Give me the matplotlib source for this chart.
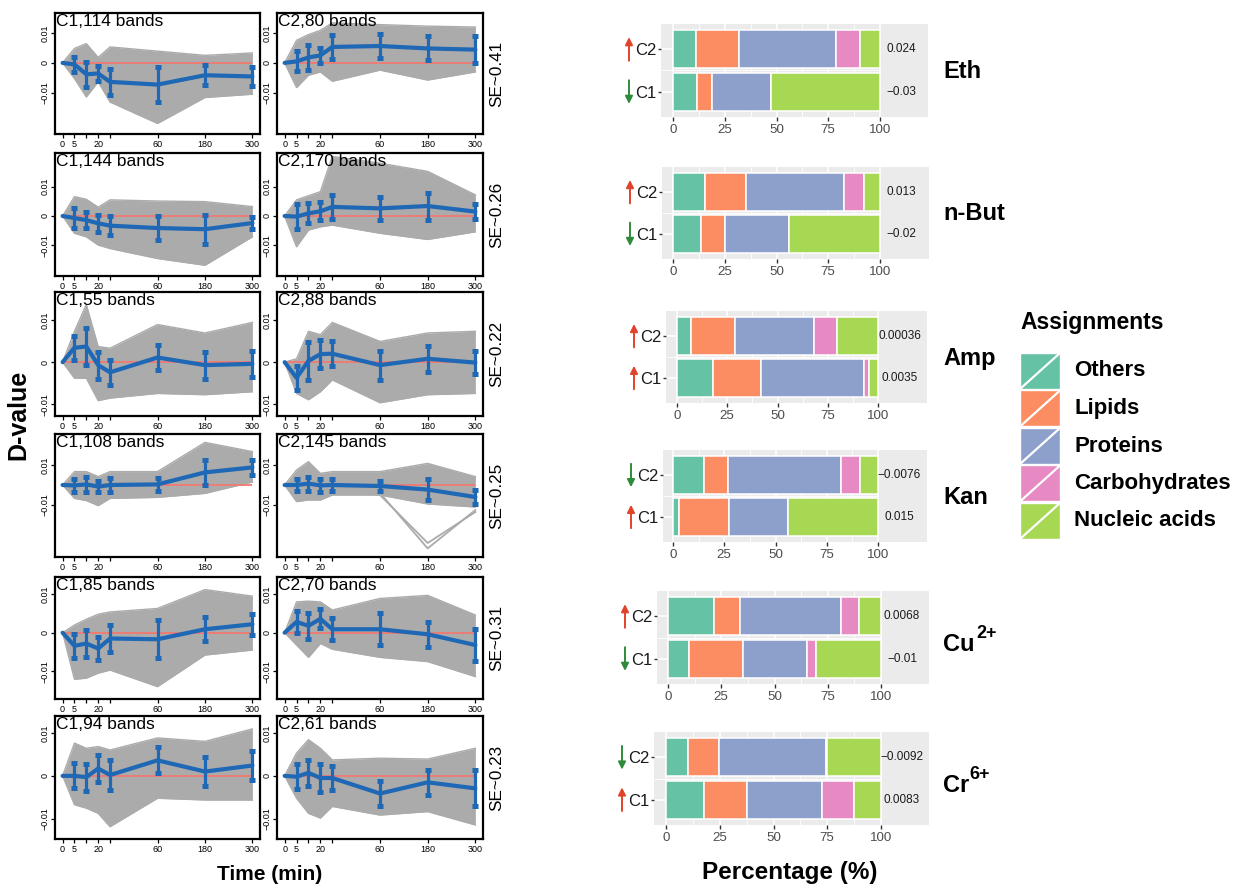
import matplotlib
matplotlib.use('Agg')
import matplotlib.pyplot as plt
import numpy as np
from matplotlib.patches import Rectangle
from matplotlib.lines import Line2D

plt.rcParams['font.family'] = ['Liberation Sans', 'DejaVu Sans']

# ---- data -----------------------------------------------------------------
times = [0, 5, 10, 20, 30, 60, 180, 300]
time_pos = [0, 1, 2, 3, 4, 8, 12, 16]          # plotting position of each time point
time_labels = ['0', '5', '', '20', '', '60', '180', '300']

treatments = ['Eth', 'n-But', 'Amp', 'Kan', 'Cu', 'Cr']
charges = ['', '', '', '', '2+', '6+']
se_values = ['0.41', '0.26', '0.22', '0.25', '0.31', '0.23']
c1_bands = [114, 144, 55, 108, 85, 94]
c2_bands = [80, 170, 88, 145, 70, 61]

# cluster mean D-value and error bar half-width per time point
c1_mean = [[0, -0.0005, -0.0038, -0.0035, -0.0063, -0.0072, -0.0041, -0.0045],
           [0, -0.0007, -0.0014, -0.0025, -0.0033, -0.0041, -0.0045, -0.0024],
           [0, 0.0034, 0.0037, -0.0007, -0.0024, 0.0011, -0.0007, -0.0004],
           [0, -0.0002, 0.0003, -0.0008, 0.0, 0.0003, 0.0063, 0.0088],
           [0, -0.0034, -0.0028, -0.0041, -0.0015, -0.0017, 0.0009, 0.0022],
           [0, 0.0, -0.0003, 0.0017, 0.0002, 0.0036, 0.0010, 0.0024]]
c1_sd = [[0, 0.0025, 0.0042, 0.0025, 0.0042, 0.0059, 0.0033, 0.0032],
         [0, 0.0033, 0.0026, 0.0030, 0.0033, 0.0041, 0.0049, 0.0021],
         [0, 0.0028, 0.0043, 0.0032, 0.0030, 0.0030, 0.0032, 0.0030],
         [0, 0.0032, 0.0036, 0.0028, 0.0033, 0.0031, 0.0063, 0.0038],
         [0, 0.0031, 0.0034, 0.0031, 0.0034, 0.0049, 0.0031, 0.0027],
         [0, 0.0029, 0.0031, 0.0032, 0.0035, 0.0030, 0.0033, 0.0033]]
c2_mean = [[0, 0.0005, 0.0018, 0.0025, 0.0053, 0.0056, 0.0048, 0.0044],
           [0, -0.0002, 0.0009, 0.0016, 0.0031, 0.0026, 0.0034, 0.0015],
           [0, -0.0037, 0.0003, 0.0019, 0.0020, -0.0007, 0.0008, -0.0001],
           [0, 0.0, 0.0007, -0.0002, 0.0, -0.0005, -0.0023, -0.0060],
           [0, 0.0028, 0.0018, 0.0036, 0.0009, 0.0009, -0.0004, -0.0032],
           [0, -0.0002, 0.0007, -0.0005, -0.0005, -0.0041, -0.0015, -0.0029]]
c2_sd = [[0, 0.0033, 0.0040, 0.0026, 0.0041, 0.0041, 0.0040, 0.0044],
         [0, 0.0043, 0.0034, 0.0030, 0.0042, 0.0038, 0.0046, 0.0026],
         [0, 0.0028, 0.0045, 0.0033, 0.0030, 0.0034, 0.0031, 0.0028],
         [0, 0.0030, 0.0035, 0.0031, 0.0028, 0.0023, 0.0052, 0.0035],
         [0, 0.0028, 0.0034, 0.0025, 0.0028, 0.0042, 0.0033, 0.0041],
         [0, 0.0029, 0.0030, 0.0033, 0.0027, 0.0028, 0.0029, 0.0042]]

# spread of the individual band profiles (upper / lower edge of the grey bundle)
c1_upper = [[0, 0.0048, 0.0064, 0.0018, 0.0053, 0.0039, 0.0025, 0.0033],
            [0, 0.0066, 0.0057, 0.0030, 0.0055, 0.0051, 0.0049, 0.0032],
            [0, 0.0073, 0.0136, 0.0037, 0.0033, 0.0089, 0.0069, 0.0094],
            [0, 0.0067, 0.0067, 0.0042, 0.0067, 0.0067, 0.0213, 0.0167],
            [0, 0.0020, 0.0035, 0.0048, 0.0054, 0.0063, 0.0112, 0.0095],
            [0, 0.0076, 0.0064, 0.0068, 0.0060, 0.0088, 0.0080, 0.0109]]
c1_lower = [[0, -0.0052, -0.0113, -0.0063, -0.0130, -0.0201, -0.0115, -0.0104],
            [0, -0.0059, -0.0071, -0.0099, -0.0111, -0.0145, -0.0168, -0.0071],
            [0, -0.0038, -0.0038, -0.0091, -0.0085, -0.0074, -0.0077, -0.0070],
            [0, -0.0067, -0.0078, -0.0103, -0.0067, -0.0062, -0.0042, 0.0015],
            [0, -0.0121, -0.0118, -0.0105, -0.0097, -0.0140, -0.0058, -0.0045],
            [0, -0.0067, -0.0075, -0.0087, -0.0118, -0.0052, -0.0056, -0.0056]]
c2_upper = [[0, 0.0075, 0.0094, 0.0108, 0.0133, 0.0127, 0.0122, 0.0119],
            [0, 0.0055, 0.0069, 0.0083, 0.0203, 0.0180, 0.0152, 0.0072],
            [0, 0.0008, 0.0073, 0.0065, 0.0094, 0.0049, 0.0069, 0.0073],
            [0, 0.0075, 0.0117, 0.0058, 0.0067, 0.0067, 0.0108, 0.0042],
            [0, 0.0080, 0.0082, 0.0080, 0.0059, 0.0089, 0.0097, 0.0046],
            [0, 0.0053, 0.0084, 0.0064, 0.0037, 0.0041, 0.0039, 0.0064]]
c2_lower = [[0, -0.0082, -0.0041, -0.0030, -0.0061, -0.0024, -0.0057, -0.0030],
            [0, -0.0105, -0.0048, -0.0037, -0.0031, -0.0059, -0.0080, -0.0054],
            [0, -0.0074, -0.0089, -0.0070, -0.0042, -0.0096, -0.0077, -0.0074],
            [0, -0.0083, -0.0075, -0.0075, -0.0050, -0.0050, -0.0095, -0.0110],
            [0, -0.0032, -0.0064, -0.0028, -0.0043, -0.0064, -0.0075, -0.0114],
            [0, -0.0052, -0.0087, -0.0098, -0.0071, -0.0091, -0.0083, -0.0114]]
# two stray Kan C2 bands that dip far below the bundle
kan_c2_outliers = [[0, 0.0, 0.0005, 0.0, -0.0015, -0.0040, -0.0317, -0.0125],
                   [0, 0.0005, 0.0, -0.0010, -0.0020, -0.0050, -0.0290, -0.0135]]

# composition of the bands (%)
assignments = ['Others', 'Lipids', 'Proteins', 'Carbohydrates', 'Nucleic acids']
assign_colors = ['#66C2A5', '#FC8D62', '#8DA0CB', '#E78AC3', '#A6D854']
c1_pct = [[11.4, 7.6, 28.3, 0.0, 52.7],
          [13.4, 11.8, 30.9, 0.0, 43.9],
          [17.9, 24.1, 50.9, 2.6, 4.5],
          [2.9, 24.5, 28.6, 0.0, 44.0],
          [9.7, 25.6, 29.8, 4.3, 30.6],
          [17.5, 20.2, 34.9, 15.0, 12.4]]
c2_pct = [[11.1, 20.8, 46.7, 11.9, 9.5],
          [15.3, 20.0, 47.4, 9.7, 7.6],
          [7.1, 21.6, 39.5, 11.2, 20.6],
          [15.2, 11.6, 55.1, 9.1, 9.0],
          [21.5, 12.3, 47.5, 8.5, 10.2],
          [10.4, 14.3, 49.7, 0.6, 25.0]]
c1_dval = [-0.03, -0.02, 0.0035, 0.015, -0.01, 0.0083]
c2_dval = [0.024, 0.013, 0.00036, -0.0076, 0.0068, -0.0092]

# ---- layout (pixels, top-left origin) -------------------------------------
W, H = 1246, 888
col_left = [55, 277]
col_right = [260, 483]
row_top = [13, 153, 292, 434, 577, 716]
row_bot = [134, 276, 416, 557, 699, 839]
row_ylim = [(-0.0236, 0.01656), (-0.02045, 0.02147), (-0.01273, 0.01659),
            (-0.036, 0.0255), (-0.01721, 0.01447), (-0.01465, 0.01389)]

bar_left = [661, 662, 666, 663, 657, 654]
bar_zero = [673, 673, 677, 673, 668, 666]
bar_hundred = [880, 880, 878, 878, 881, 881]
bar_right = [928, 929, 927, 927, 929, 929]
bar_top = [24, 167, 311, 450, 591, 732]
bar_bot = [117, 259, 403, 542, 684, 825]

GRAY = '#ABABAB'
BLUE = '#1F68B5'
RED = '#F07A72'
PANEL = '#EBEBEB'


def fx(x):
    return x / W


def fy(y):
    return 1 - y / H


def px_axes(left, top, right, bottom):
    return fig.add_axes([fx(left), fy(bottom), (right - left) / W, (bottom - top) / H])


def fmt(v):
    return f'{v:g}'.replace('-', '\u2212')


fig = plt.figure(figsize=(W / 100, H / 100), dpi=100)

# ---- left: D-value time courses ------------------------------------------
for r in range(6):
    for c in range(2):
        mean = [c1_mean, c2_mean][c][r]
        sd = [c1_sd, c2_sd][c][r]
        up = [c1_upper, c2_upper][c][r]
        lo = [c1_lower, c2_lower][c][r]
        nb = [c1_bands, c2_bands][c][r]
        ax = px_axes(col_left[c], row_top[r], col_right[c], row_bot[r])
        ax.fill_between(time_pos, lo, up, color=GRAY, lw=0, zorder=1)
        ax.plot(time_pos, up, color=GRAY, lw=1, zorder=1)
        ax.plot(time_pos, lo, color=GRAY, lw=1, zorder=1)
        if r == 3 and c == 1:
            for line in kan_c2_outliers:
                ax.plot(time_pos, line, color=GRAY, lw=1.3, zorder=1)
        ax.hlines(0, time_pos[0], time_pos[-1], color=RED, lw=1.3, zorder=2)
        ax.plot(time_pos, mean, color=BLUE, lw=3, solid_capstyle='round', zorder=3)
        ax.errorbar(time_pos[1:], mean[1:], yerr=sd[1:], fmt='none', ecolor=BLUE,
                    elinewidth=2.3, capsize=2.5, capthick=3.6, zorder=4)
        ax.set_xlim(-0.64, 16.64)
        ax.set_ylim(row_ylim[r])
        ax.set_xticks(time_pos)
        ax.set_xticklabels(time_labels)
        yt = [-0.01, 0.01] if r == 3 else [-0.01, 0, 0.01]
        ax.set_yticks(yt)
        ax.set_yticklabels([fmt(v) for v in yt])
        ax.tick_params(labelsize=6.5, length=3, width=0.9, pad=1.2)
        plt.setp(ax.get_yticklabels(), rotation=90, va='center')
        for s in ax.spines.values():
            s.set_linewidth(1.6)
        ax.text(0.006, 0.992, f'C{c + 1},{nb} bands', transform=ax.transAxes,
                ha='left', va='top', fontsize=12.5, zorder=5)
    fig.text(fx(497), fy((row_top[r] + row_bot[r]) / 2), f'SE~{se_values[r]}',
             rotation=90, ha='center', va='center', fontsize=12.3)

fig.text(fx(18), fy(415), 'D-value', rotation=90, ha='center', va='center',
         fontsize=18, fontweight='bold')
fig.text(fx(270), fy(874), 'Time (min)', ha='center', va='center',
         fontsize=15, fontweight='bold')

# ---- right: composition bars ---------------------------------------------
for i in range(6):
    ax = px_axes(bar_left[i], bar_top[i], bar_right[i], bar_bot[i])
    k = (bar_hundred[i] - bar_zero[i]) / 100
    x_lo = (bar_left[i] - bar_zero[i]) / k
    ax.set_xlim(x_lo, (bar_right[i] - bar_zero[i]) / k)
    ax.set_ylim(0.4, 2.6)
    ax.set_facecolor(PANEL)
    for g in np.arange(0, 100.1, 12.5):
        ax.vlines(g, 0.4, 2.6, color='white', lw=1.1 if g % 25 == 0 else 0.6, zorder=0.5)
    ax.hlines([1, 2], x_lo, 100, color='white', lw=1.1, zorder=0.5)
    ax.hlines(1.5, x_lo, 100, color='white', lw=0.6, zorder=0.5)

    left = np.zeros(2)
    for j, col in enumerate(assign_colors):
        w = np.array([c1_pct[i][j], c2_pct[i][j]])
        ax.barh([1, 2], w, left=left, height=0.9, color=col, edgecolor='white',
                lw=1.1, zorder=2)
        left += w

    strip_mid = ((bar_hundred[i] + bar_right[i]) / 2 - 3 - bar_zero[i]) / k
    dvals = [c1_dval[i], c2_dval[i]]
    for y, v in zip([1, 2], dvals):
        ax.text(strip_mid, y, fmt(v), ha='center', va='center', fontsize=8.5,
                color='#1A1A1A')
        up = v > 0
        ax.annotate('', xy=(-32 / (bar_right[i] - bar_left[i]), y + (0.29 if up else -0.29)),
                    xytext=(-32 / (bar_right[i] - bar_left[i]), y - (0.27 if up else -0.27)),
                    xycoords=ax.get_yaxis_transform(), annotation_clip=False,
                    arrowprops=dict(arrowstyle='-|>', lw=1.4, mutation_scale=11,
                                    color='#E0432B' if up else '#2E8B3A',
                                    shrinkA=0, shrinkB=0))

    ax.set_yticks([1, 2])
    ax.set_yticklabels(['C1', 'C2'])
    ax.set_xticks([0, 25, 50, 75, 100])
    ax.tick_params(axis='y', labelsize=12, labelcolor='#1A1A1A', length=2.5,
                   width=1, color='#333333', pad=1)
    ax.tick_params(axis='x', labelsize=9.6, labelcolor='#4D4D4D', length=3,
                   width=1, color='#333333', pad=2)
    for s in ax.spines.values():
        s.set_visible(False)

    yc = (bar_top[i] + bar_bot[i]) / 2
    if charges[i]:
        fig.text(fx(943), fy(yc + 7), treatments[i], ha='left', va='center',
                 fontsize=17, fontweight='bold')
        sx = 976 if treatments[i] == 'Cu' else 969
        fig.text(fx(sx), fy(yc - 4), charges[i], ha='left', va='center',
                 fontsize=13, fontweight='bold')
    else:
        fig.text(fx(943), fy(yc + 1), treatments[i], ha='left', va='center',
                 fontsize=17, fontweight='bold')

fig.text(fx(790), fy(872), 'Percentage (%)', ha='center', va='center',
         fontsize=17.5, fontweight='bold')

# ---- legend ---------------------------------------------------------------
fig.text(fx(1020), fy(322), 'Assignments', ha='left', va='center',
         fontsize=16.5, fontweight='bold')
for j, (name, col) in enumerate(zip(assignments, assign_colors)):
    top = 353 + j * 37.5
    fig.patches.append(Rectangle((fx(1020), fy(top + 36)), 40 / W, 36 / H,
                                 transform=fig.transFigure, facecolor=col,
                                 edgecolor='white', lw=1))
    fig.lines.append(Line2D([fx(1020), fx(1060)], [fy(top + 36), fy(top)],
                            transform=fig.transFigure, color='white', lw=1.6))
    fig.text(fx(1074), fy(top + 18), name, ha='left', va='center',
             fontsize=16, fontweight='bold')

fig.savefig('out.png', dpi=100)
